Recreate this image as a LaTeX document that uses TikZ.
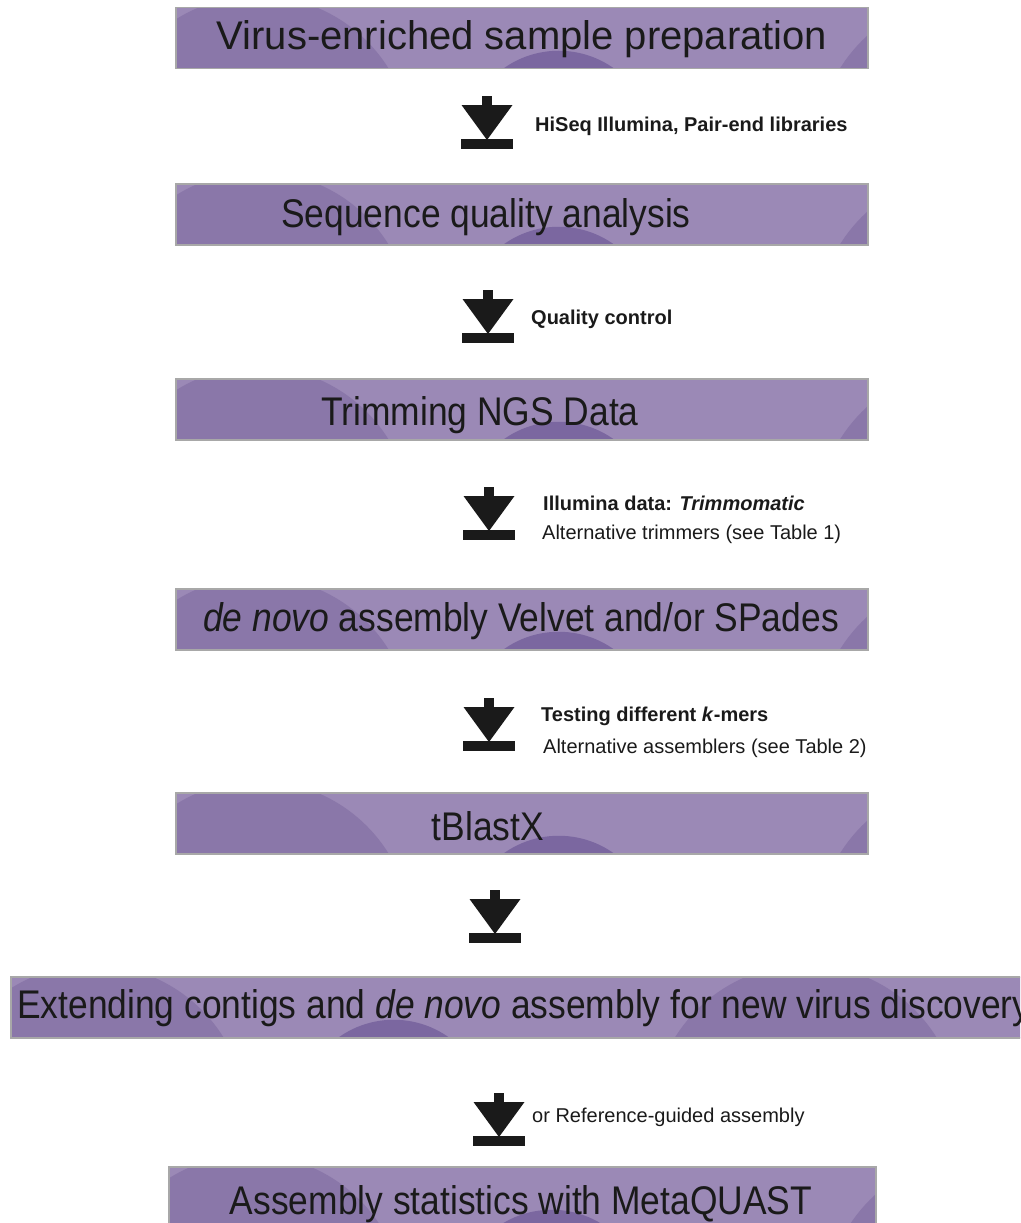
\documentclass[tikz,border=0pt]{standalone}
\usepackage{fontspec}
\setmainfont{Liberation Sans}
\newfontfamily\narrowfont[FakeStretch=0.885]{Liberation Sans}
\usepackage{tikz}

\definecolor{boxfill}{RGB}{155,137,182}
\definecolor{circside}{RGB}{138,119,169}
\definecolor{circmid}{RGB}{123,103,160}
\definecolor{boxline}{RGB}{168,168,168}
\definecolor{inkdark}{RGB}{26,26,26}

\tikzset{
    flowarrow/.pic={
        \fill[inkdark] (-5,0) rectangle (5,10);
        \fill[inkdark] (-25.5,9) -- (25.5,9) -- (0,44) -- cycle;
        \fill[inkdark] (-26,43) rectangle (26,53);
    }
}

\begin{document}
\begin{tikzpicture}[x=1pt,y=-1pt,
    procbox/.style={draw=boxline,line width=1.5pt,fill=boxfill,inner sep=0pt,
        minimum width=692pt,minimum height=61pt,anchor=north west,
        path picture={
            \fill[circside]([shift={(82pt,-142pt)}]path picture bounding box.north west) circle(154pt);
            \fill[circmid]([shift={(383pt,-138pt)}]path picture bounding box.north west) circle(95pt);
            \fill[circside]([shift={(#1pt,-142pt)}]path picture bounding box.north west) circle(154pt);
        }},
    procbox/.default=795,
    title/.style={font=\fontsize{40}{48}\selectfont,text=inkdark,inner sep=0pt,anchor=base},
    narrowtitle/.style={title,font=\narrowfont\fontsize{40}{48}\selectfont},
    note/.style={font=\fontsize{20}{24}\selectfont,text=inkdark,inner sep=0pt,anchor=base west},
    bnote/.style={note,font=\bfseries\fontsize{20}{24}\selectfont}]
    \useasboundingbox(0,0) rectangle(1020,1223);
    \clip(0,0) rectangle(1020,1223);
    \foreach\n/\y in{1/7,2/183,3/378,4/588,5/792}{
        \node[procbox] at(175,\y)(b\n){};
    }
    \node[procbox,minimum width=1100pt] at(10,976)(b6){};
    \node[procbox=810,minimum width=707pt] at(168,1166)(b7){};

    \node[title] at(522,49)(t1){Virus-enriched sample preparation};
    \node[narrowtitle] at(486,227)(t2){Sequence quality analysis};
    \node[narrowtitle] at(480,425)(t3){Trimming NGS Data};
    \node[narrowtitle] at(521,631)(t4){\textit{de novo} assembly Velvet and/or SPades};
    \node[narrowtitle] at(488,840)(t5){tBlastX};
    \node[narrowtitle,anchor=base west] at(17,1018)(t6){Extending contigs and \textit{de novo} assembly for new virus discovery};
    \node[narrowtitle] at(521,1214)(t7){Assembly statistics with MetaQUAST};

    \foreach\n/\x/\y in{1/487/96,2/488/290,3/489/487,4/489/698,5/495/890,6/499/1093}{
        \pic(a\n) at(\x,\y){flowarrow};
    }

    \node[bnote] at(535,131)(l1){HiSeq Illumina, Pair-end libraries};
    \node[bnote] at(531,324)(l2){Quality control};
    \node[bnote] at(543,510)(l3){Illumina data: \textit{Trimmomatic}};
    \node[note] at(542,539)(l3b){Alternative trimmers (see Table 1)};
    \node[bnote] at(541,721)(l4){Testing different \textit{k}-mers};
    \node[note] at(543,753)(l4b){Alternative assemblers (see Table 2)};
    \node[note] at(532,1122)(l6){or Reference-guided assembly};
\end{tikzpicture}
\end{document}
